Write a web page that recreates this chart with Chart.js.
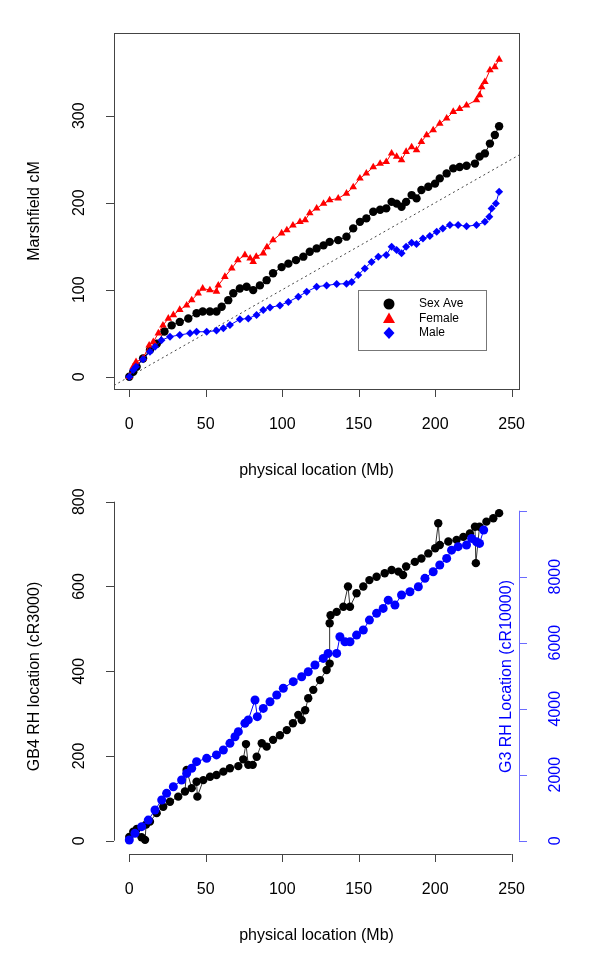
<!DOCTYPE html>
<html>
<head>
<meta charset="utf-8">
<script src="https://cdn.jsdelivr.net/npm/chart.js@4.4.1/dist/chart.umd.min.js"></script>
<style>
  html, body { margin: 0; padding: 0; background: #fff; }
  canvas { position: absolute; left: 0; }
  #top { top: 0; }
  #bottom { top: 483px; }
</style>
</head>
<body>
<canvas id="top" width="600" height="483"></canvas>
<canvas id="bottom" width="600" height="484"></canvas>
<script>
// top panel: Marshfield genetic map vs physical position
const sexAveMb = [0, 2.6, 4.8, 9, 13.5, 18, 23, 27.7, 33, 38.6, 44, 48, 52.7, 57, 60.4, 64.7, 68, 72.3, 76.7, 81,
  85.4, 89.8, 94, 99.6, 104, 109, 113.8, 118, 122.5, 127, 131, 136.6, 142, 146.4, 150.8, 155, 159.5, 164, 168, 171.5,
  174.8, 178, 181, 184.6, 187.8, 191, 195.5, 199.9, 203, 207.5, 211.8, 216, 220.5, 226, 229, 232.5, 235.8, 239, 241.8]
const sexAveCm = [0, 5.7, 11.5, 21, 30.6, 38, 52, 59, 63, 67, 73, 75, 75, 75, 80.5, 88, 96, 101.5, 103.4, 99.6,
  105, 111, 119, 126, 130, 134, 138, 143.7, 147.5, 151, 155, 157, 161, 170.5, 178, 182, 189.7, 192, 193.5, 201,
  199, 195.4, 201, 208.8, 205, 214.6, 218.4, 222, 228, 233.7, 239.5, 241, 242.5, 245, 253, 256.7, 268, 277.8, 288]

const femaleMb = [0, 2.6, 4.4, 9, 13, 15.7, 19, 22, 25.5, 28.8, 33, 37.5, 40.8, 45, 48, 52.7, 57, 58.2, 62.5, 67,
  71, 75.6, 79, 81, 83, 87.6, 90, 94, 99.6, 103, 107, 111.6, 115, 118, 122.5, 127, 131, 136.6, 142, 146.4,
  150.8, 155, 159.5, 164, 168, 171.5, 174.8, 178, 181, 184.6, 187.8, 191, 194.4, 198.7, 203, 207.5, 211.8, 216, 220.5, 227,
  229, 230.4, 232.5, 235.8, 239, 241.8]
const femaleCm = [0, 11.5, 17, 21, 36, 40, 50, 59, 67, 71, 77, 82, 88, 96, 101.5, 99.6, 98, 105, 115, 124.5,
  134, 140, 136, 132, 138, 142, 149, 157, 165, 168.6, 174, 178, 180, 188, 193.5, 199, 203, 205, 210.7, 218,
  228, 233.7, 241, 245, 247, 256.7, 253, 249, 258.6, 264, 260.5, 270, 277.8, 283.5, 291, 297, 304.6, 308, 312, 318,
  323.8, 333, 339, 352.5, 356, 364.7]

const maleMb = [0, 2.6, 4.4, 9, 13.5, 16.8, 21, 26.6, 33, 39.7, 44, 50.6, 57, 61.5, 65.8, 72.3, 77.8, 83.2, 87.6, 92,
  98.5, 104, 110.5, 116, 122.5, 129, 135.6, 142, 145.4, 149.7, 154, 158.4, 162.8, 168, 171.5, 174.8, 178, 181, 184.6, 187.8,
  192, 196.5, 201, 205, 209.6, 215, 220.5, 227, 232.5, 235.4, 236.9, 239.7, 241.8]
const maleCm = [0, 7.7, 11.5, 20, 28.7, 34.5, 42, 46, 48, 50, 51.7, 51.7, 53, 55.6, 59.4, 66, 67, 71, 76.6, 79.7,
  82, 86, 92, 97.7, 103.4, 105, 106.5, 107, 109, 116.9, 124.5, 132, 138, 140, 149.4, 145.6, 141.8, 149.4, 154, 152.5,
  159, 161.7, 166.7, 170.5, 174.3, 174.3, 173, 174.3, 178, 184, 193.5, 199, 212.6]

// reference line cM = Mb, ends only
const refLineMb = [-10, 260]

// bottom panel: radiation hybrid maps vs physical position
const gb4Mb = [0, 2.6, 5, 8, 10.3, 11, 13.5, 17.9, 22.2, 26.6, 32, 36.4, 37.5, 40.8, 44, 44.5, 48.4, 52.8, 57, 61.5,
  65.8, 71.3, 74.5, 76.3, 77.8, 80.7, 83.3, 86.6, 89.8, 94, 98.5, 103, 107, 110.5, 112.7, 115, 117, 120.3, 124.7, 129,
  131, 131, 131.6, 135.6, 140, 143, 144.3, 148.6, 153, 157, 161.7, 167, 171.5, 176, 179, 181, 186.7, 191, 195.5, 200,
  202, 203, 208.6, 214, 218.4, 222.7, 226, 226.6, 229, 233.5, 238, 241.8]
const gb4Cr = [9, 21, 28, 8, 2, 38, 45, 65, 80, 92, 104, 116, 167, 124, 139, 104, 143, 151, 155, 163,
  171, 176, 192, 228, 179, 179, 198, 230, 222, 238, 249, 261, 277, 297, 285, 308, 336, 356, 379, 403,
  418, 513, 532, 540, 552, 600, 552, 584, 600, 615, 623, 631, 639, 635, 627, 647, 658, 666, 678, 690,
  749, 698, 706, 710, 717, 725, 741, 655, 741, 753, 761, 773]

const g3Mb = [0, 3.7, 8.1, 12.4, 16.8, 21.2, 24.4, 28.8, 34.2, 37.5, 40.8, 44, 50.6, 57, 61.5, 65.8, 69.1, 71.3, 75.6, 77.8,
  82.2, 83.7, 87.6, 92, 96.4, 100.7, 107.2, 112.7, 117, 121.4, 126.8, 130, 135.6, 137.7, 141, 144.3, 148.6, 153, 157, 161.7,
  166, 169.3, 173.7, 178, 183.5, 189, 193.3, 198.7, 203, 207.5, 210.7, 215, 220.5, 223.8, 227, 229, 231.7]
const g3Cr = [20, 225, 425, 625, 930, 1235, 1435, 1635, 1840, 2040, 2195, 2395, 2495, 2600, 2750, 2950, 3150, 3305, 3560, 3660,
  4265, 3760, 4010, 4210, 4415, 4620, 4820, 4970, 5120, 5325, 5525, 5675, 5675, 6180, 6030, 6030, 6230, 6385, 6685, 6890,
  7040, 7290, 7140, 7445, 7545, 7695, 7950, 8150, 8355, 8555, 8805, 8910, 8960, 9160, 9060, 9010, 9415]

const mbTicks = [0, 50, 100, 150, 200, 250]
const cmTicks = [0, 100, 200, 300]
const gb4Ticks = [0, 200, 400, 600, 800]
const g3Ticks = [0, 2000, 4000, 6000, 8000, 10000]
const g3Labels = ['0', '2000', '4000', '6000', '8000', '']

const FONT = '"Liberation Sans", Arial, Helvetica, sans-serif'
const BLUE = '#0000ff'
const RED = '#ff0000'

const zip = (xs, ys) => xs.map((x, i) => ({ x, y: ys[i] }))

function rotatedText(ctx, text, x, y) {
  ctx.save()
  ctx.translate(x, y)
  ctx.rotate(-Math.PI / 2)
  ctx.fillText(text, 0, 0)
  ctx.restore()
}

// R-like axis: line from first to last tick, ticks pointing outward
function drawAxis(ctx, scale, side, at, ticks, labels, lineColor, textColor) {
  const horizontal = side === 'bottom'
  const dir = side === 'left' ? -1 : 1
  const p0 = scale.getPixelForValue(ticks[0])
  const p1 = scale.getPixelForValue(ticks[ticks.length - 1])
  ctx.save()
  ctx.strokeStyle = lineColor
  ctx.lineWidth = 1
  ctx.beginPath()
  if (horizontal) {
    ctx.moveTo(p0, at + 0.5)
    ctx.lineTo(p1, at + 0.5)
  } else {
    ctx.moveTo(at + 0.5, p0)
    ctx.lineTo(at + 0.5, p1)
  }
  ticks.forEach(t => {
    const p = Math.round(scale.getPixelForValue(t)) + 0.5
    if (horizontal) {
      ctx.moveTo(p, at)
      ctx.lineTo(p, at + 8)
    } else {
      ctx.moveTo(at, p)
      ctx.lineTo(at + dir * 8, p)
    }
  })
  ctx.stroke()

  ctx.fillStyle = textColor
  ctx.font = '16px ' + FONT
  ctx.textAlign = 'center'
  ctx.textBaseline = 'middle'
  ticks.forEach((t, i) => {
    const p = scale.getPixelForValue(t)
    if (horizontal) ctx.fillText(labels[i], p, at + 36)
    else rotatedText(ctx, labels[i], at + dir * (side === 'left' ? 34 : 37), p)
  })
  ctx.restore()
}

function drawTitles(ctx, a, xTitle, yTitle) {
  ctx.save()
  ctx.fillStyle = '#000'
  ctx.font = '16px ' + FONT
  ctx.textAlign = 'center'
  ctx.textBaseline = 'middle'
  ctx.fillText(xTitle, (a.left + a.right) / 2, a.bottom + 82)
  rotatedText(ctx, yTitle, a.left - 79, (a.top + a.bottom) / 2)
  ctx.restore()
}

function drawLegend(ctx) {
  const left = 358.5
  const top = 290.5
  ctx.save()
  ctx.fillStyle = '#fff'
  ctx.fillRect(left, top, 128, 60)
  ctx.strokeStyle = '#777'
  ctx.lineWidth = 1
  ctx.strokeRect(left, top, 128, 60)
  const rows = [
    { label: 'Sex Ave', color: '#000', shape: 'circle' },
    { label: 'Female', color: RED, shape: 'triangle' },
    { label: 'Male', color: BLUE, shape: 'diamond' }
  ]
  ctx.font = '12px ' + FONT
  ctx.textAlign = 'left'
  ctx.textBaseline = 'middle'
  rows.forEach((r, i) => {
    const cx = 389
    const cy = 304 + i * 14.5
    ctx.fillStyle = r.color
    ctx.beginPath()
    if (r.shape === 'circle') {
      ctx.arc(cx, cy, 5.5, 0, Math.PI * 2)
    } else if (r.shape === 'triangle') {
      ctx.moveTo(cx, cy - 6)
      ctx.lineTo(cx + 6, cy + 4.5)
      ctx.lineTo(cx - 6, cy + 4.5)
      ctx.closePath()
    } else {
      ctx.moveTo(cx, cy - 6)
      ctx.lineTo(cx + 5.5, cy)
      ctx.lineTo(cx, cy + 6)
      ctx.lineTo(cx - 5.5, cy)
      ctx.closePath()
    }
    ctx.fill()
    ctx.fillStyle = '#000'
    ctx.fillText(r.label, 419, cy)
  })
  ctx.restore()
}

const topPanel = {
  id: 'topPanel',
  afterDraw(chart) {
    const { ctx, chartArea: a, scales: { x, y } } = chart
    ctx.save()
    ctx.strokeStyle = '#444'
    ctx.lineWidth = 1
    ctx.strokeRect(a.left + 0.5, a.top + 0.5, a.right - a.left, a.bottom - a.top)
    ctx.restore()
    drawAxis(ctx, x, 'bottom', a.bottom, mbTicks, mbTicks.map(String), '#444', '#000')
    drawAxis(ctx, y, 'left', a.left, cmTicks, cmTicks.map(String), '#444', '#000')
    drawTitles(ctx, a, 'physical location (Mb)', 'Marshfield cM')
    drawLegend(ctx)
  }
}

const bottomPanel = {
  id: 'bottomPanel',
  afterDraw(chart) {
    const { ctx, chartArea: a, scales: { x, y, y2 } } = chart
    drawAxis(ctx, x, 'bottom', a.bottom, mbTicks, mbTicks.map(String), '#444', '#000')
    drawAxis(ctx, y, 'left', a.left, gb4Ticks, gb4Ticks.map(String), '#444', '#000')
    drawAxis(ctx, y2, 'right', a.right, g3Ticks, g3Labels, '#6b6bff', BLUE)
    drawTitles(ctx, a, 'physical location (Mb)', 'GB4 RH location (cR3000)')
    ctx.save()
    ctx.fillStyle = BLUE
    ctx.font = '16px ' + FONT
    ctx.textAlign = 'center'
    ctx.textBaseline = 'middle'
    rotatedText(ctx, 'G3 RH Location (cR10000)', a.right - 12.5, (a.top + a.bottom) / 2)
    ctx.restore()
  }
}

function series(data, color, pointStyle, radius, order, extra) {
  return Object.assign({
    data,
    showLine: true,
    borderColor: color,
    borderWidth: 1,
    backgroundColor: color,
    pointBackgroundColor: color,
    pointBorderWidth: 0,
    pointStyle,
    pointRadius: radius,
    tension: 0,
    order
  }, extra || {})
}

const baseOptions = {
  responsive: false,
  animation: false,
  devicePixelRatio: 1,
  events: [],
  plugins: { legend: { display: false }, tooltip: { enabled: false } }
}

new Chart(document.getElementById('top').getContext('2d'), {
  type: 'scatter',
  data: {
    datasets: [
      series(zip(sexAveMb, sexAveCm), '#000', 'circle', 4.2, 3),
      series(zip(femaleMb, femaleCm), RED, 'triangle', 4.4, 2),
      series(zip(maleMb, maleCm), BLUE, 'rectRot', 4, 1),
      series(refLineMb.map(v => ({ x: v, y: v })), '#444', 'circle', 0, 4, { borderDash: [2, 3] })
    ]
  },
  options: Object.assign({}, baseOptions, {
    layout: { padding: { left: 114, right: 81, top: 33, bottom: 94 } },
    scales: {
      x: { type: 'linear', display: false, min: -10, max: 254.8 },
      y: { type: 'linear', display: false, min: -14.1, max: 395.1 }
    }
  }),
  plugins: [topPanel]
})

new Chart(document.getElementById('bottom').getContext('2d'), {
  type: 'scatter',
  data: {
    datasets: [
      series(zip(gb4Mb, gb4Cr), '#000', 'circle', 4.2, 2, { borderColor: '#333', yAxisID: 'y' }),
      series(zip(g3Mb, g3Cr), BLUE, 'circle', 4.5, 1, { yAxisID: 'y2' })
    ]
  },
  options: Object.assign({}, baseOptions, {
    layout: { padding: { left: 114, right: 81, top: 16, bottom: 113 } },
    scales: {
      x: { type: 'linear', display: false, min: -10, max: 254.8 },
      y: { type: 'linear', display: false, min: -31.4, max: 806.4 },
      y2: { type: 'linear', display: false, min: -403, max: 10355 }
    }
  }),
  plugins: [bottomPanel]
})
</script>
</body>
</html>
